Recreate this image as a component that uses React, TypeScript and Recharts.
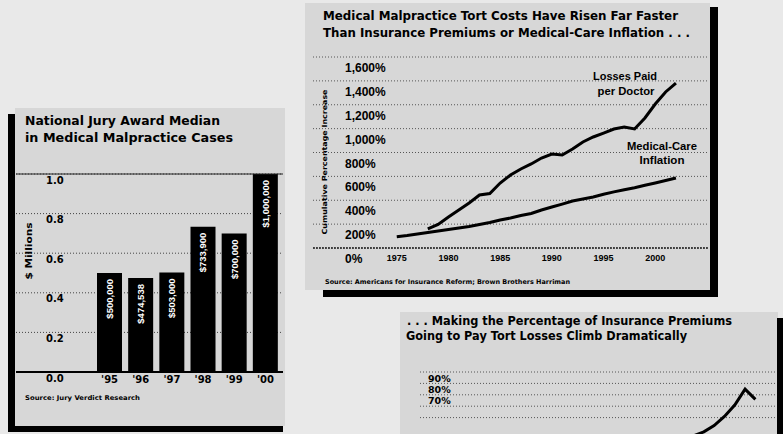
import React from "react";
import {
  BarChart,
  Bar,
  LineChart,
  Line,
  XAxis,
  YAxis,
  CartesianGrid,
  ReferenceLine,
  LabelList,
} from "recharts";

const FONT = "'Liberation Sans', Arial, sans-serif";
const HEAVY = "'DejaVu Sans', 'Liberation Sans', sans-serif";

// National jury award median ($ millions)
const juryYears = ["'95", "'96", "'97", "'98", "'99", "'00"];
const juryMedian = [0.5, 0.474538, 0.503, 0.7339, 0.7, 1.0];
const juryLabels = ["$500,000", "$474,538", "$503,000", "$733,900", "$700,000", "$1,000,000"];
const juryTicks = [0, 0.2, 0.4, 0.6, 0.8, 1.0];

// cumulative percentage increase
const costYears = [
  1975, 1976, 1977, 1978, 1979, 1980, 1981, 1982, 1983, 1984, 1985, 1986, 1987, 1988,
  1989, 1990, 1991, 1992, 1993, 1994, 1995, 1996, 1997, 1998, 1999, 2000, 2001, 2002,
];
const lossesPerDoctor = [
  null, null, null, 160, 197, 260, 318, 377, 444, 456, 544, 611, 662, 704,
  754, 787, 779, 829, 888, 930, 963, 997, 1013, 997, 1089, 1206, 1307, 1382,
];
const medicalInflation = [
  95, 105, 117, 130, 142, 155, 168, 180, 197, 214, 235, 251, 272, 289,
  318, 343, 368, 394, 410, 427, 450, 470, 488, 505, 525, 545, 565, 586,
];
const costTicks = [0, 200, 400, 600, 800, 1000, 1200, 1400, 1600];
const costYearTicks = [1975, 1980, 1985, 1990, 1995, 2000];

// share of premiums going to pay tort losses (%)
const shareYears = [1993, 1994, 1995, 1996, 1997, 1998, 1999, 2000, 2001, 2002];
const premiumShare = [32, 33, 33, 34, 37.5, 43, 51, 61, 75, 66];
const shareTicks = [50, 60, 70, 80, 90];
const shareLabelled = [70, 80, 90];

const juryData = juryYears.map((year, i) => ({
  year,
  median: juryMedian[i],
  label: juryLabels[i],
}));
const costData = costYears.map((year, i) => ({
  year,
  losses: lossesPerDoctor[i],
  medical: medicalInflation[i],
}));
const shareData = shareYears.map((year, i) => ({ year, share: premiumShare[i] }));

const BarValueLabel = (props: any) => {
  const cx = Number(props.x) + Number(props.width) / 2;
  const top = Number(props.y) + 6;
  return (
    <text
      x={cx}
      y={top}
      transform={`rotate(-90 ${cx} ${top})`}
      textAnchor="end"
      dominantBaseline="central"
      fill="#fff"
      fontSize={9.5}
      fontWeight={700}
      fontFamily={FONT}
    >
      {props.value}
    </text>
  );
};

const juryXTick = (props: any) => (
  <text x={props.x} y={379} textAnchor="middle" dominantBaseline="central" fontSize={10} fontWeight={700} fontFamily={HEAVY} fill="#000">
    {props.payload.value}
  </text>
);
const juryYTick = (props: any) => (
  <text x={46} y={props.y + 6} dominantBaseline="central" fontSize={10} fontWeight={700} fontFamily={HEAVY} fill="#000">
    {Number(props.payload.value).toFixed(1)}
  </text>
);
const costXTick = (props: any) => (
  <text x={props.x} y={258} textAnchor="middle" dominantBaseline="central" fontSize={9} fontWeight={700} fontFamily={FONT} fill="#000">
    {props.payload.value}
  </text>
);
const costYTick = (props: any) => (
  <text x={345} y={props.y + 11} dominantBaseline="central" fontSize={12} fontWeight={700} fontFamily={FONT} fill="#000">
    {Number(props.payload.value).toLocaleString("en-US") + "%"}
  </text>
);
const shareYTick = (props: any) =>
  shareLabelled.includes(props.payload.value) ? (
    <text x={428} y={props.y + 6} dominantBaseline="central" fontSize={9.5} fontWeight={700} fontFamily={HEAVY} fill="#000">
      {props.payload.value + "%"}
    </text>
  ) : (
    <g />
  );

const Caption = ({ x, y, w, size, anchor = "start", rotate = false, font = HEAVY, children }: any) => (
  <text
    x={x}
    y={y}
    fontSize={size}
    fontWeight={700}
    fontFamily={font}
    textAnchor={anchor}
    dominantBaseline="central"
    textLength={w}
    lengthAdjust="spacingAndGlyphs"
    transform={rotate ? `rotate(-90 ${x} ${y})` : undefined}
    fill="#000"
  >
    {children}
  </text>
);

const Block = ({ l, t, w, h, c }: any) => (
  <div style={{ position: "absolute", left: l, top: t, width: w, height: h, background: c }} />
);

const layer: React.CSSProperties = { position: "absolute", left: 0, top: 0 };

const App = () => {
  return (
    <div
      style={{
        position: "fixed",
        left: 0,
        top: 0,
        width: 783,
        height: 434,
        overflow: "hidden",
        background: "#e9e9e9",
      }}
    >
      {/* panels */}
      <Block l={15} t={108} w={270} h={318} c="#d7d7d7" />
      <Block l={305} t={3} w={405} h={287} c="#d7d7d7" />
      <Block l={400} t={312} w={378} h={122} c="#d7d7d7" />
      {/* frame shadows */}
      <Block l={8} t={114} w={7} h={318} c="#000" />
      <Block l={8} t={426} w={275} h={6} c="#000" />
      <Block l={710} t={7} w={8} h={290} c="#000" />
      <Block l={323} t={290} w={395} h={7} c="#000" />
      <Block l={777} t={318} w={6} h={116} c="#000" />

      <div style={layer}>
        <BarChart width={290} height={400} data={juryData} margin={{ top: 174, right: 7, bottom: 8, left: 16 }}>
          <CartesianGrid vertical={false} stroke="#444" strokeDasharray="1 2" />
          <XAxis
            dataKey="year"
            height={20}
            axisLine={false}
            tickLine={false}
            padding={{ left: 78, right: 2 }}
            interval={0}
            tick={juryXTick}
          />
          <YAxis mirror interval={0} domain={[0, 1]} ticks={juryTicks} axisLine={false} tickLine={false} tick={juryYTick} />
          <ReferenceLine y={1} stroke="#222" />
          <ReferenceLine y={0} stroke="#000" strokeWidth={2} />
          <Bar dataKey="median" fill="#000" barSize={25} isAnimationActive={false}>
            <LabelList dataKey="label" content={BarValueLabel} />
          </Bar>
        </BarChart>
      </div>

      <div style={layer}>
        <LineChart width={720} height={300} data={costData} margin={{ top: 57, right: 12, bottom: 32, left: 313 }}>
          <CartesianGrid vertical={false} stroke="#555" strokeDasharray="1 2" />
          <XAxis
            type="number"
            dataKey="year"
            domain={[1966.9, 2005.1]}
            allowDataOverflow
            ticks={costYearTicks}
            interval={0}
            height={20}
            axisLine={false}
            tickLine={false}
            tick={costXTick}
          />
          <YAxis mirror interval={0} domain={[0, 1600]} ticks={costTicks} axisLine={false} tickLine={false} tick={costYTick} />
          <ReferenceLine y={0} stroke="#222" strokeWidth={1.5} strokeDasharray="2 1" />
          <Line dataKey="losses" stroke="#000" strokeWidth={3} dot={false} isAnimationActive={false} />
          <Line dataKey="medical" stroke="#000" strokeWidth={3} dot={false} isAnimationActive={false} />
        </LineChart>
      </div>

      <div style={layer}>
        <LineChart width={783} height={480} data={shareData} margin={{ top: 372, right: 8, bottom: 39.6, left: 420 }}>
          <CartesianGrid vertical={false} stroke="#555" strokeDasharray="1 2" />
          <XAxis type="number" dataKey="year" domain={[1969.5, 2003.9]} allowDataOverflow hide />
          <YAxis mirror interval={0} domain={[30, 90]} ticks={shareTicks} axisLine={false} tickLine={false} tick={shareYTick} />
          <Line dataKey="share" stroke="#000" strokeWidth={3} dot={false} isAnimationActive={false} />
        </LineChart>
      </div>

      <svg width={783} height={434} style={{ ...layer, pointerEvents: "none" }}>
        <Caption x={25} y={120} w={195} size={12.5}>National Jury Award Median</Caption>
        <Caption x={25} y={137} w={208} size={12.5}>in Medical Malpractice Cases</Caption>
        <Caption x={29} y={251} w={57} size={8} anchor="middle" rotate>$ Millions</Caption>
        <Caption x={25} y={398} w={115} size={6.5}>Source: Jury Verdict Research</Caption>

        <Caption x={323} y={15} w={355} size={12.5}>Medical Malpractice Tort Costs Have Risen Far Faster</Caption>
        <Caption x={323} y={32} w={367} size={12.5}>Than Insurance Premiums or Medical-Care Inflation . . .</Caption>
        <Caption x={325} y={162} w={145} size={7} anchor="middle" rotate>Cumulative Percentage Increase</Caption>
        <Caption x={325} y={282} w={245} size={6.5}>Source: Americans for Insurance Reform; Brown Brothers Harriman</Caption>
        <Caption x={625} y={76} w={64} size={11} anchor="middle" font={FONT}>Losses Paid</Caption>
        <Caption x={626} y={91} w={57} size={11} anchor="middle" font={FONT}>per Doctor</Caption>
        <Caption x={662} y={146} w={70} size={11} anchor="middle" font={FONT}>Medical-Care</Caption>
        <Caption x={662} y={160} w={45} size={11} anchor="middle" font={FONT}>Inflation</Caption>

        <Caption x={407} y={321} w={325} size={12}>. . . Making the Percentage of Insurance Premiums</Caption>
        <Caption x={406} y={336} w={281} size={12}>Going to Pay Tort Losses Climb Dramatically</Caption>
      </svg>
    </div>
  );
};

export default App;
